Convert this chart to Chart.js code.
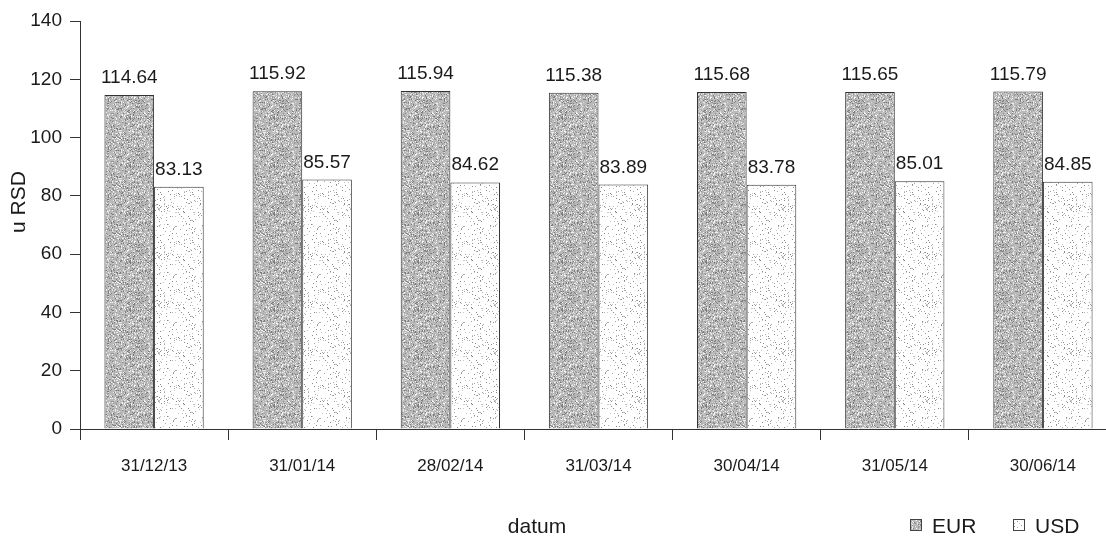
<!DOCTYPE html>
<html>
<head>
<meta charset="utf-8">
<script src="https://cdn.jsdelivr.net/npm/chart.js@4.4.0/dist/chart.umd.min.js"></script>
<style>
  html, body { margin: 0; padding: 0; background: #fff; overflow: hidden; }
  #wrap { width: 1120px; height: 538px; }
</style>
</head>
<body>
<div id="wrap"><canvas id="rsdChart" width="1120" height="538"></canvas></div>
<script>
const dates = ["31/12/13", "31/01/14", "28/02/14", "31/03/14", "30/04/14", "31/05/14", "30/06/14"];
const eurValues = [114.64, 115.92, 115.94, 115.38, 115.68, 115.65, 115.79];
const usdValues = [83.13, 85.57, 84.62, 83.89, 83.78, 85.01, 84.85];
const yTicks = [0, 20, 40, 60, 80, 100, 120, 140];

const FONT = "'Liberation Sans', Arial, sans-serif";

// speckled fills like the scanned original
function makePattern(base, dots, density) {
  const c = document.createElement("canvas");
  c.width = 48; c.height = 48;
  const g = c.getContext("2d");
  g.fillStyle = base;
  g.fillRect(0, 0, 48, 48);
  let seed = 7;
  const rnd = () => { seed = (seed * 16807) % 2147483647; return seed / 2147483647; };
  for (let y = 0; y < 48; y++) {
    for (let x = 0; x < 48; x++) {
      if (rnd() < density) {
        g.fillStyle = dots[Math.floor(rnd() * dots.length)];
        g.fillRect(x, y, 1, 1);
      }
    }
  }
  return g.createPattern(c, "repeat");
}

const ctx0 = document.getElementById("rsdChart").getContext("2d");
const eurFill = makePattern("#b9b9b9", ["#7c7c7c", "#999", "#dcdcdc", "#f2f2f2"], 0.4);
const usdFill = makePattern("#ffffff", ["#a8a8a8", "#c4c4c4", "#8a8a8a"], 0.08);

const extras = {
  id: "extras",
  afterDatasetsDraw(chart) {
    const c = chart.ctx;
    c.save();
    c.fillStyle = "#1a1a1a";
    c.font = "19px " + FONT;
    c.textAlign = "center";
    c.textBaseline = "alphabetic";
    chart.data.datasets.forEach((ds, i) => {
      chart.getDatasetMeta(i).data.forEach((bar, j) => {
        c.fillText(ds.data[j].toFixed(2), bar.x, bar.y - 12);
      });
    });

    // axis titles
    c.font = "21px " + FONT;
    c.fillText("datum", 537, 533);
    c.save();
    c.translate(25, 202);
    c.rotate(-Math.PI / 2);
    c.fillText("u RSD", 0, 0);
    c.restore();

    // legend
    const items = [["EUR", eurFill, 910], ["USD", usdFill, 1013]];
    c.textAlign = "left";
    c.font = "21px " + FONT;
    items.forEach(([name, fill, x]) => {
      c.fillStyle = fill;
      c.fillRect(x, 519, 12, 12);
      c.strokeStyle = "#444";
      c.lineWidth = 1;
      c.strokeRect(x + 0.5, 519.5, 11, 11);
      c.fillStyle = "#1a1a1a";
      c.fillText(name, x + 22, 533);
    });
    c.restore();
  }
};

new Chart(ctx0, {
  type: "bar",
  data: {
    labels: dates,
    datasets: [
      { label: "EUR", data: eurValues, backgroundColor: eurFill, borderColor: "#333", borderWidth: 1 },
      { label: "USD", data: usdValues, backgroundColor: usdFill, borderColor: "#333", borderWidth: 1 },
    ],
  },
  options: {
    responsive: false,
    animation: false,
    layout: { padding: { top: 21, right: 3, left: 0, bottom: 0 } },
    categoryPercentage: 0.67,
    barPercentage: 1.0,
    plugins: { legend: { display: false }, tooltip: { enabled: false } },
    scales: {
      x: {
        offset: true,
        grid: { offset: true, drawOnChartArea: false, color: "#333", tickLength: 11 },
        border: { color: "#333", width: 1 },
        ticks: { color: "#1a1a1a", font: { family: FONT, size: 17 }, padding: 16, maxRotation: 0 },
        afterFit: (s) => { s.height = 109; },
      },
      y: {
        min: 0,
        max: 140,
        afterBuildTicks: (s) => { s.ticks = yTicks.map((v) => ({ value: v })); },
        grid: { drawOnChartArea: false, color: "#333", tickLength: 10 },
        border: { color: "#333", width: 1 },
        ticks: { color: "#1a1a1a", font: { family: FONT, size: 19 }, padding: 8 },
        afterFit: (s) => { s.width = 80; },
      },
    },
  },
  plugins: [extras],
});
</script>
</body>
</html>
